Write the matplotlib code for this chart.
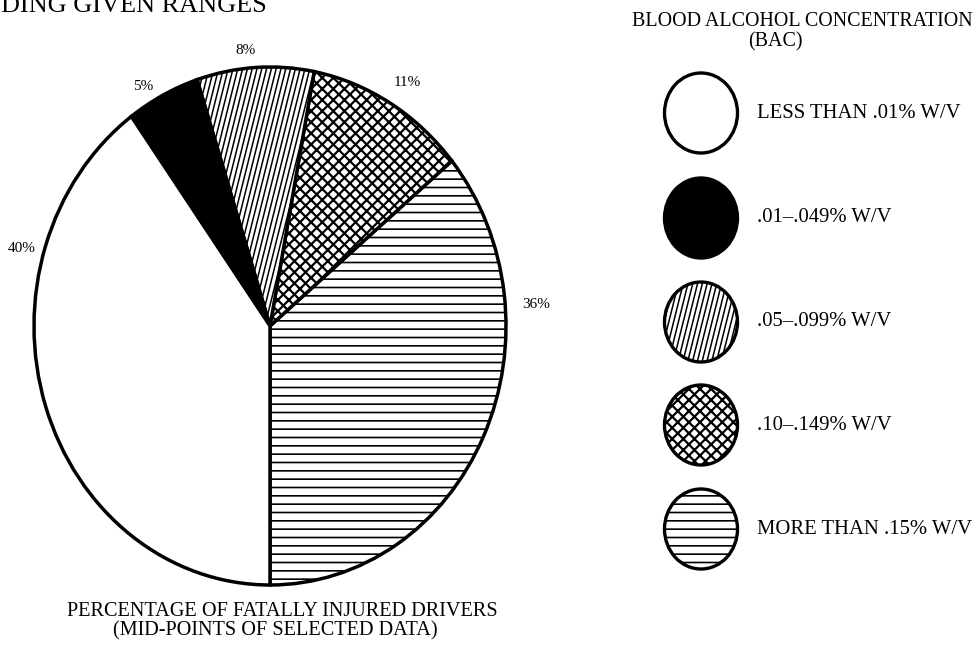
import matplotlib
matplotlib.use("Agg")
import matplotlib.pyplot as plt
import numpy as np
from matplotlib.patches import Ellipse
from matplotlib.collections import LineCollection

plt.rcParams['font.family'] = ['Liberation Serif', 'DejaVu Serif']
plt.rcParams['hatch.linewidth'] = 1.2

# ---------------- data ----------------
categories = ["LESS THAN .01% W/V", ".01\u2013.049% W/V", ".05\u2013.099% W/V",
              ".10\u2013.149% W/V", "MORE THAN .15% W/V"]
percentages = [40, 5, 8, 11, 36]
pct_labels = ["40%", "5%", "8%", "11%", "36%"]
legend_title = ["BLOOD ALCOHOL CONCENTRATION", "(BAC)"]
caption = ["PERCENTAGE OF FATALLY INJURED DRIVERS", "(MID-POINTS OF SELECTED DATA)"]
top_title = "DING GIVEN RANGES"

# ---------------- styles ----------------
fills = ['white', 'black', 'white', 'white', 'white']
hatches = [None, None, 'stripe', 'xxx', '--']

W, H = 976, 653
fig = plt.figure(figsize=(W / 100, H / 100), dpi=100)

cx, cy, a, b = 270, 326, 236, 259
ax = fig.add_axes([(cx - a) / W, (H - (cy + b)) / H, 2 * a / W, 2 * b / H])
order = [4, 3, 2, 1, 0]   # counterclockwise from 6 o'clock
wedges, _ = ax.pie([percentages[i] for i in order], startangle=-90, counterclock=True,
                   radius=1, colors=[fills[i] for i in order],
                   wedgeprops=dict(edgecolor='black', linewidth=2.5))
ax.set_aspect('auto')
ax.set_xlim(-1, 1)
ax.set_ylim(-1, 1)
ax.axis('off')
for w, i in zip(wedges, order):
    w.set_clip_on(False)
    if hatches[i] in ('--', 'xxx'):
        w.set_hatch(hatches[i])
        if hatches[i] == 'xxx' and hasattr(w, 'set_hatch_linewidth'):
            w.set_hatch_linewidth(1.6)

ax_o = fig.add_axes([0, 0, 1, 1], zorder=5)
ax_o.set_xlim(0, W)
ax_o.set_ylim(H, 0)
ax_o.axis('off')
ax_o.patch.set_alpha(0)


def stripes(clip_patch, x0, x1, y0, y1, spacing=4.8, angle=76, lw=1.1):
    t = np.tan(np.radians(angle))
    shift = (y1 - y0) / t
    segs = [[(xs, y1), (xs + shift, y0)] for xs in np.arange(x0 - shift, x1 + shift, spacing)]
    lc = LineCollection(segs, colors='black', linewidths=lw)
    ax_o.add_collection(lc)
    lc.set_clip_path(clip_patch)


stripe_wedge = wedges[order.index(2)]
stripes(stripe_wedge, 150, 360, 55, 340)

renderer = fig.canvas.get_renderer()


def fit(t, width):
    bb = t.get_window_extent(renderer)
    t.set_fontsize(t.get_fontsize() * width / bb.width)
    return t.get_fontsize()


# pie labels
label_pos = [(22, 249), (143, 87), (246, 51), (407, 82), (536, 305)]
for lab, (px, py) in zip(pct_labels, label_pos):
    ax_o.text(px, py, lab, ha='center', va='center', fontsize=11)

# legend
leg_x = 701
leg_ys = [113, 218, 322, 425, 529]
for i, (cat, y) in enumerate(zip(categories, leg_ys)):
    e = Ellipse((leg_x, y), 73, 80, facecolor=fills[i], edgecolor='black', linewidth=2.4)
    ax_o.add_patch(e)
    if hatches[i] in ('--', 'xxx'):
        e.set_hatch(hatches[i])
        if hatches[i] == 'xxx' and hasattr(e, 'set_hatch_linewidth'):
            e.set_hatch_linewidth(1.6)
    elif hatches[i] == 'stripe':
        stripes(e, leg_x - 45, leg_x + 45, y - 45, y + 45)

t_last = ax_o.text(757, leg_ys[-1], categories[-1], ha='left', va='center', fontsize=12)
fs_leg = fit(t_last, 214)
for cat, y in zip(categories[:-1], leg_ys[:-1]):
    ax_o.text(757, y, cat, ha='left', va='center', fontsize=fs_leg)

tt = ax_o.text(802, 21, legend_title[0], ha='center', va='center', fontsize=12)
fs_t = fit(tt, 338)
ax_o.text(775, 42, legend_title[1], ha='center', va='center', fontsize=fs_t)

c1 = ax_o.text(282, 612, caption[0], ha='center', va='center', fontsize=12)
fs_c = fit(c1, 428)
ax_o.text(275, 631, caption[1], ha='center', va='center', fontsize=fs_c)

tp = ax_o.text(1, 12, top_title, ha='left', va='baseline', fontsize=16)
fit(tp, 266)

fig.savefig("out.png", dpi=100)
